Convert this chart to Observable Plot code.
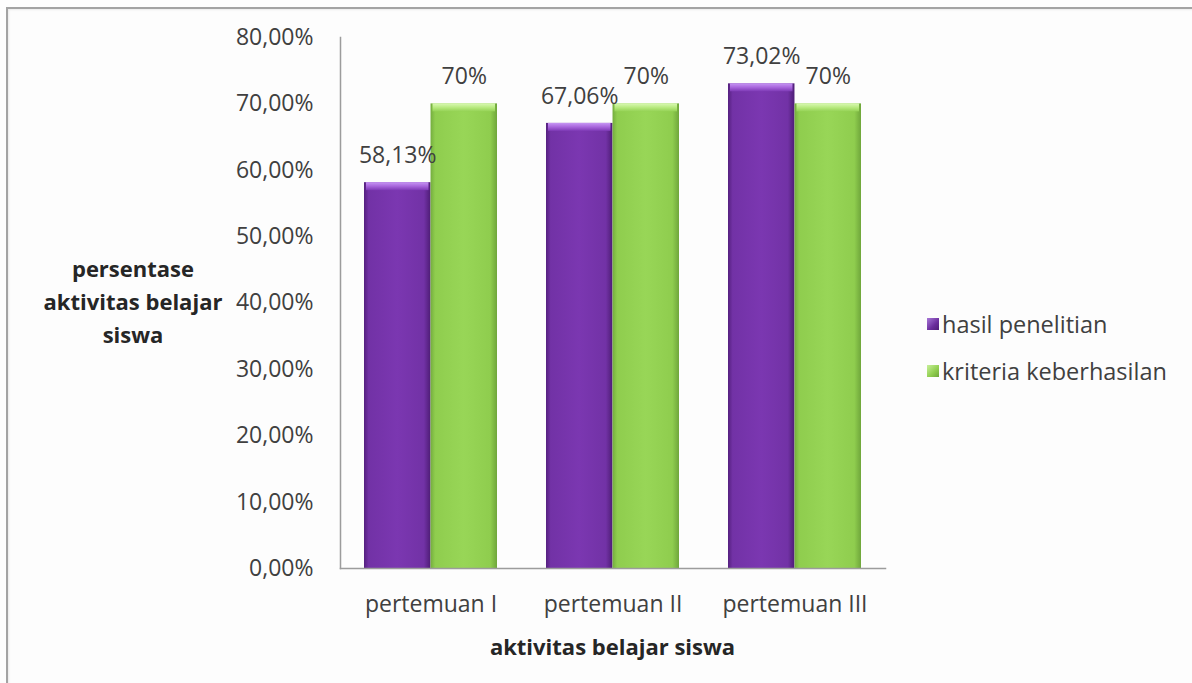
<!DOCTYPE html>
<html><head><meta charset="utf-8">
<script src="https://cdn.jsdelivr.net/npm/d3@7"></script>
<script src="https://cdn.jsdelivr.net/npm/@observablehq/plot@0.6"></script>
<style>
body{margin:0;background:#fdfdfd;}
#wrap{position:relative;width:1192px;height:683px;background:#fdfdfd;overflow:hidden;font-family:"Open Sans",sans-serif;color:#404040;}
#border{position:absolute;left:6px;top:7px;width:1300px;height:800px;border-left:2px solid #a3a3a3;border-top:2px solid #a3a3a3;box-shadow:inset 1px 1px 2px rgba(0,0,0,0.08);}
#chart{position:absolute;left:0;top:0;}
.ylab{position:absolute;left:23px;width:220px;top:252px;text-align:center;font-weight:700;font-size:22px;line-height:33px;color:#262626;}
.xlab{position:absolute;left:340px;width:545px;top:630px;text-align:center;font-weight:700;font-size:22px;line-height:32px;color:#262626;}
.legend{position:absolute;left:927px;top:307px;font-size:23.5px;color:#404040;}
.legend .item{display:flex;align-items:center;height:34px;margin-bottom:13px;white-space:nowrap;}
.legend .sw{width:12px;height:12px;margin-right:3px;box-sizing:border-box;}
</style></head><body>
<div id="wrap"><div id="border"></div><div id="chart"></div>
<div class="ylab" id="ylab"></div>
<div class="xlab" id="xlab"></div>
<div class="legend" id="legend"></div>
</div>
<script>
const categories = ["pertemuan I", "pertemuan II", "pertemuan III"];
const series = ["hasil penelitian", "kriteria keberhasilan"];
const hasil = [58.13, 67.06, 73.02];
const kriteria = [70, 70, 70];
const hasilLabels = ["58,13%", "67,06%", "73,02%"];
const kriteriaLabels = ["70%", "70%", "70%"];
const yTicks = [0, 10, 20, 30, 40, 50, 60, 70, 80];
const yTickLabels = ["0,00%", "10,00%", "20,00%", "30,00%", "40,00%", "50,00%", "60,00%", "70,00%", "80,00%"];
const xTitle = "aktivitas belajar siswa";
const yTitle = ["persentase", "aktivitas belajar", "siswa"];

const W = 1192, H = 683, mL = 340, mR = 307, mT = 37, mB = 115;
const rows = categories.map((c, i) => ({cat: c, hasil: hasil[i], kriteria: kriteria[i], hl: hasilLabels[i], kl: kriteriaLabels[i]}));

const xOpts = {type: "band", domain: categories, paddingInner: 0.27, paddingOuter: 0.13};
const xs = Plot.scale({x: {...xOpts, range: [mL, W - mR]}});
const bw = xs.bandwidth;

function defs() {
  const ns = "http://www.w3.org/2000/svg";
  const d = document.createElementNS(ns, "defs");
  const grads = [
    ["gP", 1, 0, [[0, "#55207f"], [0.07, "#7232a6"], [0.5, "#7b37b1"], [0.9, "#7232a6"], [1, "#4e1d76"]]],
    ["gG", 1, 0, [[0, "#74ad3e"], [0.07, "#8fcd4e"], [0.5, "#98d657"], [0.9, "#8fcd4e"], [1, "#6fa63b"]]],
    ["cP", 0, 1, [[0, "#c796f4"], [0.5, "#a866dc"], [1, "#7e3ab6"]]],
    ["cG", 0, 1, [[0, "#daf9b4"], [0.5, "#b8ea80"], [1, "#95d255"]]]
  ];
  for (const [id, x2, y2, stops] of grads) {
    const g = document.createElementNS(ns, "linearGradient");
    g.setAttribute("id", id);
    g.setAttribute("x1", 0); g.setAttribute("y1", 0);
    g.setAttribute("x2", x2); g.setAttribute("y2", y2);
    for (const [o, c] of stops) {
      const s = document.createElementNS(ns, "stop");
      s.setAttribute("offset", o); s.setAttribute("stop-color", c);
      g.appendChild(s);
    }
    d.appendChild(g);
  }
  return d;
}

const plot = Plot.plot({
  width: W, height: H,
  marginLeft: mL, marginRight: mR, marginTop: mT, marginBottom: mB,
  style: {fontFamily: "'Open Sans', sans-serif", fontSize: "23px", background: "transparent", color: "#404040"},
  x: {...xOpts, label: null},
  y: {domain: [0, 80], label: null},
  marks: [
    defs,
    Plot.barY(rows, {x: "cat", y: "hasil", fill: "url(#gP)", insetRight: bw / 2}),
    Plot.barY(rows, {x: "cat", y: "kriteria", fill: "url(#gG)", insetLeft: bw / 2}),
    Plot.barY(rows, {x: "cat", y1: "hasil", y2: "hasil", insetBottom: -8, insetRight: bw / 2 + 2, insetLeft: 2, fill: "url(#cP)"}),
    Plot.barY(rows, {x: "cat", y1: "kriteria", y2: "kriteria", insetBottom: -8, insetLeft: bw / 2 + 2, insetRight: 2, fill: "url(#cG)"}),
    Plot.frame({anchor: "left", stroke: "#9c9c9c", strokeWidth: 1.5}),
    Plot.frame({anchor: "bottom", stroke: "#9c9c9c", strokeWidth: 1.5}),
    Plot.axisY(yTicks, {tickSize: 0, tickPadding: 27, tickFormat: d => yTickLabels[yTicks.indexOf(d)], label: null, fill: "#404040"}),
    Plot.axisX({tickSize: 0, tickPadding: 27, label: null, fill: "#404040"}),
    Plot.text(rows, {x: "cat", y: "hasil", text: "hl", dx: -bw / 4, dy: -27, fill: "#404040"}),
    Plot.text(rows, {x: "cat", y: "kriteria", text: "kl", dx: bw / 4, dy: -27, fill: "#404040"})
  ]
});
document.getElementById("chart").appendChild(plot);

document.getElementById("ylab").innerHTML = yTitle.join("<br>");
document.getElementById("xlab").textContent = xTitle;
const swatchBg = ["linear-gradient(135deg,#a878d8,#6a2c9c 60%,#4e1d76)", "linear-gradient(135deg,#c8f09a,#8fcd4e 60%,#6fa63b)"];
const leg = document.getElementById("legend");
series.forEach((s, i) => {
  const it = document.createElement("div"); it.className = "item";
  const sw = document.createElement("div"); sw.className = "sw"; sw.style.background = swatchBg[i];
  const t = document.createElement("span"); t.textContent = s;
  it.appendChild(sw); it.appendChild(t); leg.appendChild(it);
});
</script>
</body></html>
